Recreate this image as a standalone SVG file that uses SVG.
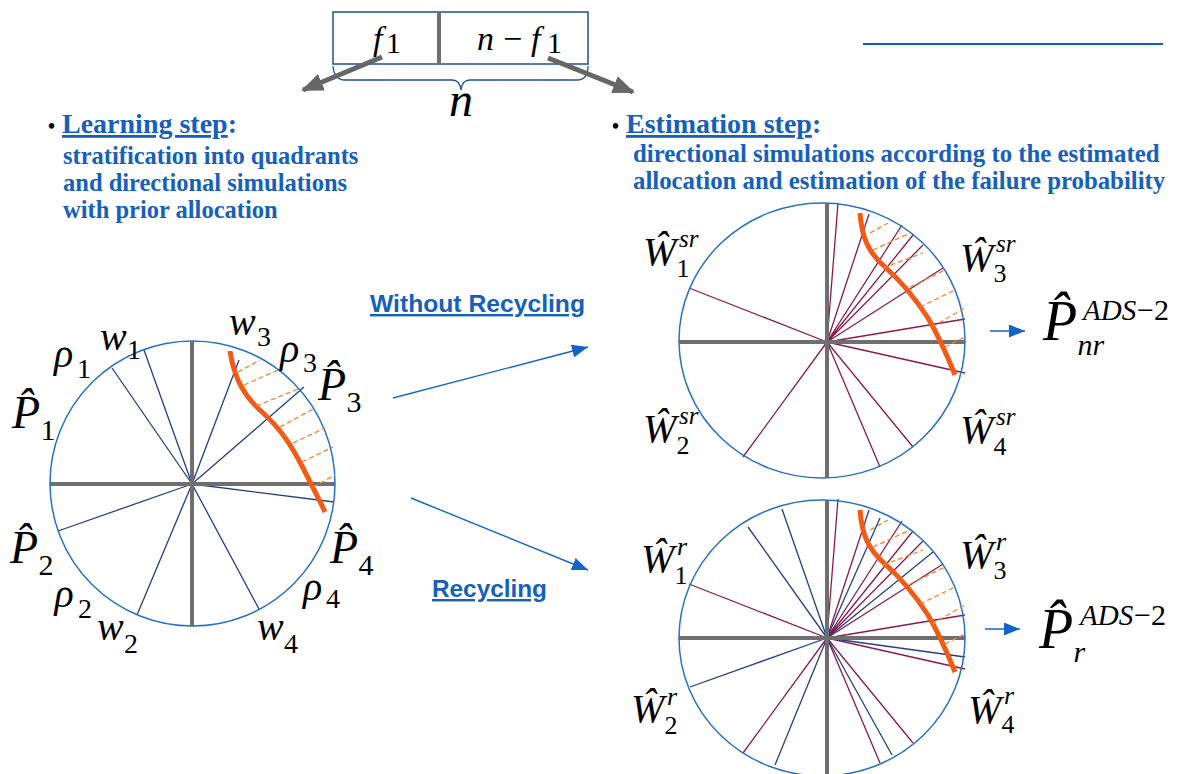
<svg xmlns="http://www.w3.org/2000/svg" width="1189" height="774" viewBox="0 0 1189 774">
<style>
.m{font-family:"Liberation Serif","Times New Roman",serif;font-style:italic;fill:#000}
.n{font-style:normal}
.hd{font-family:"Liberation Serif","Times New Roman",serif;font-weight:bold;fill:#1560bd}
.ar{font-family:"Liberation Sans",Arial,sans-serif;font-weight:bold;fill:#1560bd}
.ul{text-decoration:underline}
.circ{fill:none;stroke:#2870c8;stroke-width:1.5}
.ax{stroke:#6f6f6f;stroke-width:4}
.bl{stroke:#223f85;stroke-width:1.3}
.rd{stroke:#8b1a4a;stroke-width:1.3}
.lsf{fill:none;stroke:#f25a16;stroke-width:5}
.ds{stroke:#f5822e;stroke-width:1.3;stroke-dasharray:5 3}
.ga{stroke:#666;stroke-width:5;fill:none}
.ba{stroke:#1464c8;stroke-width:1.4;fill:none}
</style>
<defs>
<marker id="gh" markerUnits="userSpaceOnUse" markerWidth="22" markerHeight="18" refX="20" refY="9" orient="auto"><path d="M0,0 L22,9 L0,18 z" fill="#666"/></marker>
<marker id="bh" markerUnits="userSpaceOnUse" markerWidth="16" markerHeight="13" refX="16" refY="6.5" orient="auto"><path d="M0,0 L16,6.5 L0,13 z" fill="#1464c8"/></marker>
<g id="lsfR">
<path class="lsf" d="M860,213 C862,238 868,252 885,267 C902,282 915,298 928,318 C938,335 947,355 955,375"/>
<path class="ds" d="M870,233 L888,223 M873,250 L910,233 M883,268 L923,253 M910,287 L945,270 M920,307 L955,290 M932,327 L965,308 M945,347 L965,337"/>
</g>
<g id="redR">
<path class="rd" d="M827,342 L838,203 M827,342 L869,214 M827,342 L902,225 M827,342 L913,235 M827,342 L923,245 M827,342 L943,268 M827,342 L965,319 M827,342 L965,373 M827,342 L689,288 M827,342 L743,457 M827,342 L880,467 M827,342 L913,447"/>
</g>
</defs>

<!-- top box -->
<g id="sample-split">
<rect x="333" y="12" width="255" height="52" fill="none" stroke="#1d4e9e" stroke-width="1.5"/>
<line x1="439" y1="12" x2="439" y2="64" stroke="#6f6f6f" stroke-width="4"/>
<text class="m" font-size="34"><tspan x="373" y="50">f</tspan><tspan class="n" font-size="30" x="386" y="53">1</tspan></text>
<text class="m" font-size="34"><tspan x="477" y="50">n</tspan><tspan class="n" x="503" y="50">−</tspan><tspan x="531" y="50">f</tspan><tspan class="n" font-size="30" x="547" y="53">1</tspan></text>
<path d="M333,66 Q334,80 345,80 L452,80 Q460,80 461,90 Q462,80 470,80 L577,80 Q588,80 588,66" fill="none" stroke="#1d4e9e" stroke-width="1.3"/>
<text class="m" font-size="48" x="461" y="116" text-anchor="middle">n</text>
</g>

<line x1="863" y1="44" x2="1163" y2="44" stroke="#0a5cc8" stroke-width="2"/>

<!-- headings -->
<g id="learning-text">
<text class="hd" font-size="28" x="48" y="133"><tspan fill="#000" font-size="20">•</tspan> <tspan class="ul">Learning step</tspan>:</text>
<text class="hd" font-size="24.5" x="63" y="164">stratification into quadrants</text>
<text class="hd" font-size="24.5" x="63" y="191">and directional simulations</text>
<text class="hd" font-size="24.5" x="63" y="218">with prior allocation</text>
</g>
<g id="estimation-text">
<text class="hd" font-size="28" x="612" y="133"><tspan fill="#000" font-size="20">•</tspan> <tspan class="ul">Estimation step</tspan>:</text>
<text class="hd" font-size="24.8" x="633" y="162">directional simulations according to the estimated</text>
<text class="hd" font-size="24.8" x="633" y="189">allocation and estimation of the failure probability</text>
</g>

<!-- left circle -->
<g id="learning-circle">
<path class="bl" d="M192,484 L144,350 M192,484 L112,368 M192,484 L239,360 M192,484 L304,387 M192,484 L334,502 M192,484 L58,531 M192,484 L137,615 M192,484 L259,609"/>
<line class="ax" x1="50" y1="484" x2="335" y2="484"/>
<line class="ax" x1="192" y1="341" x2="192" y2="626"/>
<circle class="circ" cx="192.5" cy="483.5" r="142.5"/>
<path class="lsf" d="M230,351 C234,378 244,396 262,412 C282,430 292,447 302,466 C310,482 318,497 325,512"/>
<path class="ds" d="M238,372 L260,360 M244,385 L278,370 M256,406 L298,389 M280,427 L315,408 M293,443 L325,428 M302,462 L333,447 M313,487 L335,475"/>
<text class="m" font-size="40"><tspan x="100" y="350">w</tspan><tspan class="n" font-size="28" x="127" y="359">1</tspan></text>
<text class="m" font-size="40"><tspan x="54" y="367">ρ</tspan><tspan class="n" font-size="28" x="77" y="378">1</tspan></text>
<text class="m" font-size="46"><tspan x="12" y="428">P&#x302;</tspan><tspan class="n" font-size="30" x="40.5" y="440">1</tspan></text>
<text class="m" font-size="46"><tspan x="10" y="563">P&#x302;</tspan><tspan class="n" font-size="30" x="38.5" y="575">2</tspan></text>
<text class="m" font-size="40"><tspan x="54.5" y="607">ρ</tspan><tspan class="n" font-size="28" x="78" y="618">2</tspan></text>
<text class="m" font-size="40"><tspan x="97" y="640">w</tspan><tspan class="n" font-size="28" x="124" y="653">2</tspan></text>
<text class="m" font-size="40"><tspan x="229" y="335">w</tspan><tspan class="n" font-size="28" x="257" y="346">3</tspan></text>
<text class="m" font-size="40"><tspan x="280" y="362">ρ</tspan><tspan class="n" font-size="28" x="303" y="372">3</tspan></text>
<text class="m" font-size="46"><tspan x="318" y="400">P&#x302;</tspan><tspan class="n" font-size="30" x="346.5" y="412">3</tspan></text>
<text class="m" font-size="46"><tspan x="330" y="563">P&#x302;</tspan><tspan class="n" font-size="30" x="358.5" y="575">4</tspan></text>
<text class="m" font-size="40"><tspan x="303" y="600">ρ</tspan><tspan class="n" font-size="28" x="326" y="608">4</tspan></text>
<text class="m" font-size="40"><tspan x="257" y="640">w</tspan><tspan class="n" font-size="28" x="284" y="653">4</tspan></text>
</g>

<!-- top right circle: without recycling -->
<g id="circle-no-recycling">
<use href="#redR"/>
<line class="ax" x1="679" y1="342" x2="965" y2="342"/>
<line class="ax" x1="827" y1="203" x2="827" y2="478"/>
<ellipse class="circ" cx="822" cy="340.5" rx="143" ry="137.5"/>
<use href="#lsfR"/>
<text class="m" font-size="40"><tspan x="643" y="265">W&#x302;</tspan><tspan font-size="25" x="679" y="247">sr</tspan><tspan class="n" font-size="26" x="676.5" y="277">1</tspan></text>
<text class="m" font-size="40"><tspan x="643" y="442">W&#x302;</tspan><tspan font-size="25" x="679" y="424">sr</tspan><tspan class="n" font-size="26" x="676.5" y="454">2</tspan></text>
<text class="m" font-size="40"><tspan x="960" y="271">W&#x302;</tspan><tspan font-size="25" x="996" y="252">sr</tspan><tspan class="n" font-size="26" x="993.5" y="282">3</tspan></text>
<text class="m" font-size="40"><tspan x="960" y="443">W&#x302;</tspan><tspan font-size="25" x="996" y="425">sr</tspan><tspan class="n" font-size="26" x="993.5" y="455">4</tspan></text>
</g>

<!-- bottom right circle: recycling -->
<g id="circle-recycling">
<use href="#redR" transform="translate(0,296)"/>
<path class="bl" d="M827,638 L782,509 M827,638 L748,527 M827,638 L690,687 M827,638 L775,765 M827,638 L892,755 M827,638 L965,657 M827,638 L880,518 M827,638 L933,552"/>
<line class="ax" x1="679" y1="638" x2="965" y2="638"/>
<line class="ax" x1="827" y1="500" x2="827" y2="774"/>
<ellipse class="circ" cx="822" cy="638" rx="143" ry="138"/>
<use href="#lsfR" transform="translate(0,297)"/>
<text class="m" font-size="40"><tspan x="641" y="572">W&#x302;</tspan><tspan font-size="26" x="677" y="555">r</tspan><tspan class="n" font-size="26" x="674.5" y="584">1</tspan></text>
<text class="m" font-size="40"><tspan x="631" y="722">W&#x302;</tspan><tspan font-size="26" x="667" y="705">r</tspan><tspan class="n" font-size="26" x="664.5" y="734">2</tspan></text>
<text class="m" font-size="40"><tspan x="960" y="568">W&#x302;</tspan><tspan font-size="26" x="996" y="550">r</tspan><tspan class="n" font-size="26" x="993.5" y="579">3</tspan></text>
<text class="m" font-size="40"><tspan x="968" y="723">W&#x302;</tspan><tspan font-size="26" x="1004" y="704">r</tspan><tspan class="n" font-size="26" x="1001.5" y="733">4</tspan></text>
</g>

<!-- branch labels -->
<g id="label-without">
<text class="ar ul" font-size="24" x="370" y="312" textLength="215" lengthAdjust="spacingAndGlyphs">Without Recycling</text>
</g>
<g id="label-recycling">
<text class="ar ul" font-size="24" x="432" y="597" textLength="115" lengthAdjust="spacingAndGlyphs">Recycling</text>
</g>

<!-- results -->
<g id="result-nr">
<text class="m" font-size="56"><tspan x="1043" y="340">P&#x302;</tspan><tspan font-size="29" x="1083" y="320">ADS</tspan><tspan class="n" font-size="30" x="1137" y="320">−2</tspan><tspan font-size="30" x="1077.5" y="355">nr</tspan></text>
</g>
<g id="result-r">
<text class="m" font-size="56"><tspan x="1039" y="648">P&#x302;</tspan><tspan font-size="29" x="1080" y="625">ADS</tspan><tspan class="n" font-size="30" x="1134" y="625">−2</tspan><tspan font-size="30" x="1073.5" y="662">r</tspan></text>
</g>

<!-- connectors -->
<g id="connectors">
<line class="ga" x1="382" y1="57" x2="303" y2="90" marker-end="url(#gh)"/>
<line class="ga" x1="548" y1="58" x2="633" y2="92" marker-end="url(#gh)"/>
<line class="ba" x1="393" y1="398" x2="588" y2="347" marker-end="url(#bh)"/>
<line class="ba" x1="411" y1="498" x2="588" y2="570" marker-end="url(#bh)"/>
<line class="ba" x1="990" y1="331" x2="1025" y2="331" marker-end="url(#bh)"/>
<line class="ba" x1="985" y1="629" x2="1020" y2="629" marker-end="url(#bh)"/>
</g>
</svg>
